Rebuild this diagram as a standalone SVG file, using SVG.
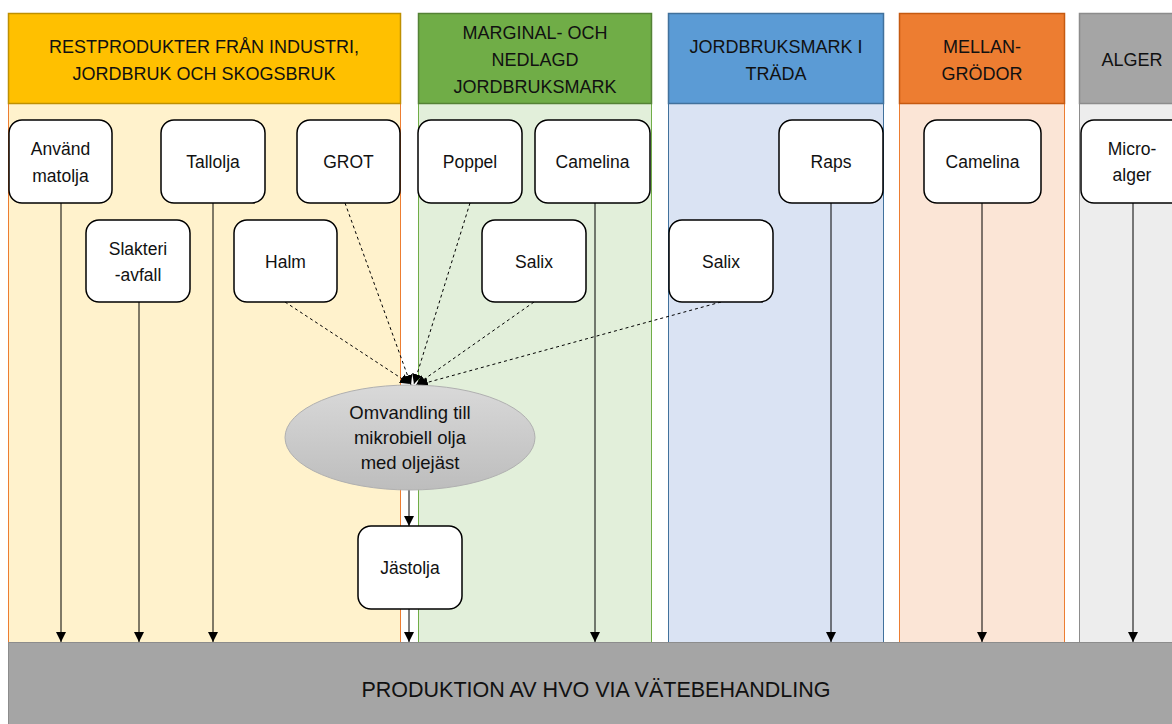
<svg xmlns="http://www.w3.org/2000/svg" width="1172" height="724" viewBox="0 0 1172 724">
<style>
.hd{font-family:"Liberation Sans",Arial,sans-serif;font-size:18px;fill:#111;text-anchor:middle}
.nt{font-family:"Liberation Sans",Arial,sans-serif;font-size:17.5px;fill:#111;text-anchor:middle}
.et{font-family:"Liberation Sans",Arial,sans-serif;font-size:18.5px;fill:#111;text-anchor:middle}
.node{fill:#fff;stroke:#000;stroke-width:1.5}
.c{stroke:#000;stroke-width:1;fill:none}
.d{stroke:#000;stroke-width:1;fill:none;stroke-dasharray:3 3}
</style>
<defs>
<marker id="ah" viewBox="0 0 10 10" refX="10" refY="5" markerWidth="10" markerHeight="10" markerUnits="userSpaceOnUse" orient="auto">
<path d="M0,0 L10,5 L0,10 Z" fill="#000"/>
</marker>
<linearGradient id="eg" x1="0" y1="0" x2="0" y2="1">
<stop offset="0" stop-color="#d9d9d9"/>
<stop offset="1" stop-color="#bdbdbd"/>
</linearGradient>
</defs>
<rect width="1172" height="724" fill="#fff"/>
<g id="col1">
<rect x="8.5" y="13.5" width="392" height="630" fill="#FFF2CC" stroke="#ED7D31"/>
<rect x="8.5" y="13.5" width="392" height="90" fill="#FFC000" stroke="#BF9000" stroke-width="1.5"/>
<text class="hd" x="204" y="53">RESTPRODUKTER FRÅN INDUSTRI,</text>
<text class="hd" x="204" y="80">JORDBRUK OCH SKOGSBRUK</text>
</g>
<g id="col2">
<rect x="418.5" y="13.5" width="233" height="630" fill="#E2EFDA" stroke="#70AD47"/>
<rect x="418.5" y="13.5" width="233" height="90" fill="#70AD47" stroke="#548235" stroke-width="1.5"/>
<text class="hd" x="535" y="39">MARGINAL- OCH</text>
<text class="hd" x="535" y="66">NEDLAGD</text>
<text class="hd" x="535" y="93">JORDBRUKSMARK</text>
</g>
<g id="col3">
<rect x="668.5" y="13.5" width="215" height="630" fill="#DAE3F3" stroke="#41719C"/>
<rect x="668.5" y="13.5" width="215" height="90" fill="#5B9BD5" stroke="#41719C" stroke-width="1.5"/>
<text class="hd" x="776" y="53">JORDBRUKSMARK I</text>
<text class="hd" x="776" y="80">TRÄDA</text>
</g>
<g id="col4">
<rect x="899.5" y="13.5" width="165" height="630" fill="#FBE5D6" stroke="#ED7D31"/>
<rect x="899.5" y="13.5" width="165" height="90" fill="#ED7D31" stroke="#C55A11" stroke-width="1.5"/>
<text class="hd" x="982" y="53">MELLAN-</text>
<text class="hd" x="982" y="80">GRÖDOR</text>
</g>
<g id="col5">
<rect x="1079.5" y="13.5" width="100" height="630" fill="#EDEDED" stroke="#8c8c8c"/>
<rect x="1079.5" y="13.5" width="100" height="90" fill="#A5A5A5" stroke="#8c8c8c" stroke-width="1.5"/>
<text class="hd" x="1132" y="66">ALGER</text>
</g>
<g id="bar">
<rect x="8.5" y="642.5" width="1170" height="90" fill="#A5A5A5" stroke="#8c8c8c"/>
<text class="hd" x="596" y="697" style="font-size:21.5px">PRODUKTION AV HVO VIA VÄTEBEHANDLING</text>
</g>
<g id="connectors">
<line class="c" x1="61" y1="203" x2="61" y2="642" marker-end="url(#ah)"/>
<line class="c" x1="139" y1="302" x2="139" y2="642" marker-end="url(#ah)"/>
<line class="c" x1="213" y1="203" x2="213" y2="642" marker-end="url(#ah)"/>
<line class="c" x1="595" y1="203" x2="595" y2="642" marker-end="url(#ah)"/>
<line class="c" x1="831" y1="203" x2="831" y2="642" marker-end="url(#ah)"/>
<line class="c" x1="982" y1="203" x2="982" y2="642" marker-end="url(#ah)"/>
<line class="c" x1="1133" y1="203" x2="1133" y2="642" marker-end="url(#ah)"/>
<line class="c" x1="409" y1="490" x2="409" y2="526" marker-end="url(#ah)"/>
<line class="c" x1="409" y1="609" x2="409" y2="642" marker-end="url(#ah)"/>
<line class="d" x1="345" y1="203" x2="411" y2="385" marker-end="url(#ah)"/>
<line class="d" x1="285" y1="302" x2="410" y2="384" marker-end="url(#ah)"/>
<line class="d" x1="470" y1="203" x2="414" y2="384" marker-end="url(#ah)"/>
<line class="d" x1="534" y1="302" x2="416" y2="385" marker-end="url(#ah)"/>
<line class="d" x1="721" y1="302" x2="418" y2="385" marker-end="url(#ah)"/>
</g>
<g id="n-matolja"><rect class="node" x="9" y="120" width="103" height="83" rx="13"/><text class="nt" x="60.5" y="155">Använd</text><text class="nt" x="60.5" y="182">matolja</text></g>
<g id="n-tallolja"><rect class="node" x="161" y="120" width="104" height="83" rx="13"/><text class="nt" x="213" y="168">Tallolja</text></g>
<g id="n-grot"><rect class="node" x="297" y="120" width="103" height="83" rx="13"/><text class="nt" x="348.5" y="168">GROT</text></g>
<g id="n-slakteri"><rect class="node" x="86" y="220" width="104" height="82" rx="13"/><text class="nt" x="138" y="255">Slakteri</text><text class="nt" x="138" y="281">-avfall</text></g>
<g id="n-halm"><rect class="node" x="234" y="220" width="103" height="82" rx="13"/><text class="nt" x="285.5" y="268">Halm</text></g>
<g id="n-poppel"><rect class="node" x="418" y="120" width="104" height="83" rx="13"/><text class="nt" x="470" y="168">Poppel</text></g>
<g id="n-camelina1"><rect class="node" x="535" y="120" width="115" height="83" rx="13"/><text class="nt" x="592.5" y="168">Camelina</text></g>
<g id="n-salix1"><rect class="node" x="482" y="220" width="104" height="82" rx="13"/><text class="nt" x="534" y="268">Salix</text></g>
<g id="n-salix2"><rect class="node" x="669" y="220" width="104" height="82" rx="13"/><text class="nt" x="721" y="268">Salix</text></g>
<g id="n-raps"><rect class="node" x="779" y="120" width="104" height="83" rx="13"/><text class="nt" x="831" y="168">Raps</text></g>
<g id="n-camelina2"><rect class="node" x="924" y="120" width="117" height="83" rx="13"/><text class="nt" x="982.5" y="168">Camelina</text></g>
<g id="n-microalger"><rect class="node" x="1081" y="120" width="103" height="83" rx="13"/><text class="nt" x="1132" y="155">Micro-</text><text class="nt" x="1132" y="181">alger</text></g>
<g id="n-omvandling"><ellipse cx="410" cy="437.5" rx="125" ry="52.5" fill="url(#eg)" stroke="#b0b0b0"/><text class="et" x="410" y="419">Omvandling till</text><text class="et" x="410" y="444">mikrobiell olja</text><text class="et" x="410" y="469">med oljejäst</text></g>
<g id="n-jastolja"><rect class="node" x="358" y="526" width="104" height="83" rx="13"/><text class="nt" x="410" y="574">Jästolja</text></g>
</svg>
